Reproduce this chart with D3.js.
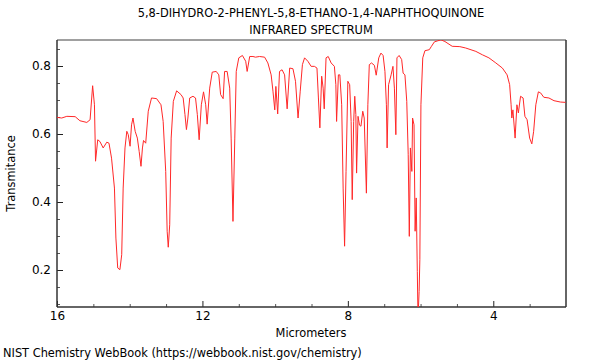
<!DOCTYPE html>
<html lang="en">

<head>
    <meta charset="utf-8">
    <title>IR Spectrum</title>
    <script src="https://cdn.jsdelivr.net/npm/d3@7"></script>
    <style>
        body { margin: 0; background: #fff; }
        text { font-family: "DejaVu Sans", sans-serif; }
    </style>
</head>

<body>
    <svg width="600" height="360"></svg>
    <script>
        // micrometers
        const wavelength = [16.00, 15.87, 15.73, 15.50, 15.37, 15.18, 15.09, 15.02, 14.97, 14.94, 14.88, 14.82, 14.73, 14.63, 14.57, 14.50, 14.42, 14.38, 14.33, 14.27, 14.22, 14.18, 14.13, 14.08, 14.04, 13.99, 13.95, 13.91, 13.85, 13.79, 13.74, 13.69, 13.65, 13.62, 13.56, 13.49, 13.40, 13.26, 13.14, 13.08, 13.01, 12.97, 12.94, 12.90, 12.86, 12.80, 12.71, 12.59, 12.53, 12.48, 12.44, 12.40, 12.35, 12.26, 12.19, 12.14, 12.09, 12.03, 11.97, 11.91, 11.87, 11.80, 11.73, 11.62, 11.55, 11.50, 11.43, 11.39, 11.32, 11.25, 11.21, 11.16, 11.11, 11.07, 11.00, 10.90, 10.81, 10.77, 10.70, 10.61, 10.54, 10.43, 10.29, 10.20, 10.11, 10.06, 10.01, 9.98, 9.93, 9.88, 9.81, 9.74, 9.67, 9.60, 9.51, 9.44, 9.37, 9.31, 9.25, 9.19, 9.10, 9.01, 8.92, 8.85, 8.81, 8.77, 8.72, 8.68, 8.65, 8.60, 8.54, 8.46, 8.37, 8.33, 8.31, 8.26, 8.22, 8.17, 8.13, 8.09, 8.05, 8.00, 7.95, 7.91, 7.88, 7.84, 7.81, 7.78, 7.76, 7.72, 7.68, 7.64, 7.59, 7.55, 7.49, 7.45, 7.41, 7.35, 7.27, 7.22, 7.15, 7.09, 7.03, 6.98, 6.94, 6.92, 6.88, 6.81, 6.76, 6.72, 6.68, 6.65, 6.59, 6.52, 6.48, 6.43, 6.38, 6.34, 6.31, 6.28, 6.24, 6.22, 6.18, 6.15, 6.12, 6.09, 6.07, 6.04, 6.02, 5.99, 5.94, 5.88, 5.76, 5.70, 5.62, 5.53, 5.44, 5.33, 5.13, 4.92, 4.76, 4.48, 4.30, 4.12, 3.93, 3.75, 3.62, 3.55, 3.51, 3.49, 3.46, 3.40, 3.35, 3.31, 3.25, 3.18, 3.13, 3.07, 3.00, 2.94, 2.89, 2.83, 2.76, 2.70, 2.61, 2.47, 2.33, 2.15, 2.01];

        const transmitance = [0.649, 0.647, 0.652, 0.651, 0.639, 0.634, 0.642, 0.742, 0.686, 0.520, 0.583, 0.578, 0.559, 0.576, 0.573, 0.529, 0.441, 0.294, 0.206, 0.201, 0.245, 0.441, 0.559, 0.608, 0.598, 0.564, 0.627, 0.647, 0.608, 0.588, 0.549, 0.505, 0.559, 0.581, 0.573, 0.667, 0.706, 0.704, 0.686, 0.637, 0.490, 0.314, 0.267, 0.333, 0.588, 0.696, 0.727, 0.716, 0.706, 0.657, 0.613, 0.647, 0.706, 0.711, 0.706, 0.657, 0.583, 0.686, 0.724, 0.686, 0.629, 0.735, 0.782, 0.784, 0.774, 0.716, 0.704, 0.784, 0.784, 0.735, 0.588, 0.343, 0.588, 0.784, 0.824, 0.831, 0.814, 0.784, 0.828, 0.828, 0.826, 0.828, 0.826, 0.809, 0.774, 0.726, 0.671, 0.740, 0.659, 0.784, 0.789, 0.774, 0.674, 0.794, 0.792, 0.755, 0.647, 0.726, 0.804, 0.824, 0.814, 0.799, 0.799, 0.794, 0.706, 0.618, 0.770, 0.735, 0.674, 0.824, 0.828, 0.809, 0.799, 0.745, 0.637, 0.774, 0.774, 0.686, 0.441, 0.270, 0.490, 0.755, 0.745, 0.637, 0.407, 0.637, 0.711, 0.657, 0.485, 0.652, 0.626, 0.623, 0.667, 0.647, 0.426, 0.686, 0.804, 0.809, 0.802, 0.773, 0.824, 0.838, 0.831, 0.784, 0.686, 0.559, 0.745, 0.774, 0.799, 0.735, 0.598, 0.824, 0.831, 0.819, 0.779, 0.774, 0.696, 0.539, 0.299, 0.559, 0.490, 0.647, 0.627, 0.314, 0.412, 0.196, 0.060, 0.137, 0.230, 0.686, 0.824, 0.845, 0.848, 0.858, 0.871, 0.874, 0.877, 0.872, 0.858, 0.857, 0.853, 0.843, 0.833, 0.824, 0.809, 0.794, 0.774, 0.745, 0.686, 0.647, 0.671, 0.588, 0.686, 0.662, 0.711, 0.706, 0.652, 0.642, 0.588, 0.571, 0.608, 0.686, 0.724, 0.721, 0.708, 0.706, 0.698, 0.694, 0.693];

        const xTicks = [16, 12, 8, 4];
        const yTicks = [0.2, 0.4, 0.6, 0.8];
        const titleLines = ["5,8-DIHYDRO-2-PHENYL-5,8-ETHANO-1,4-NAPHTHOQUINONE", "INFRARED SPECTRUM"];

        let data = wavelength.map((w, i) => ({ w: w, t: transmitance[i] }));

        let svg = d3.select("svg"),
            margin = { top: 40, right: 34, bottom: 53, left: 57 },
            width = +svg.attr("width") - margin.left - margin.right,
            height = +svg.attr("height") - margin.top - margin.bottom,
            g = svg.append("g").attr("transform", "translate(" + margin.left + "," + margin.top + ")");

        const fs = "11.4px";

        let xScale = d3.scaleLinear()
            .domain([16, 2])
            .range([0, width]);

        let yScale = d3.scaleLinear()
            .domain([0.0912, 0.8765])
            .range([height, 0]);

        svg.append("defs").append("clipPath")
            .attr("id", "plot")
            .append("rect")
            .attr("width", width)
            .attr("height", height);

        // minor ticks (inward, no labels)
        g.append("g")
            .attr("transform", "translate(0," + height + ")")
            .call(d3.axisTop(xScale).tickValues(d3.range(15, 2, -1).filter(v => v % 4 != 0)).tickSize(3).tickFormat(""))
            .call(a => a.select(".domain").remove())
            .selectAll("line").attr("stroke", "#555");

        g.append("g")
            .call(d3.axisRight(yScale).tickValues(d3.range(0.1, 0.87, 0.05).filter(v => Math.abs(v * 5 - Math.round(v * 5)) > 0.01)).tickSize(3).tickFormat(""))
            .call(a => a.select(".domain").remove())
            .selectAll("line").attr("stroke", "#555");

        // major ticks + labels
        let xAxis = g.append("g")
            .attr("transform", "translate(0," + height + ")")
            .call(d3.axisTop(xScale).tickValues(xTicks).tickSize(6).tickFormat(d3.format("d")))
            .call(a => a.select(".domain").remove());
        xAxis.selectAll("text")
            .attr("y", 13)
            .attr("dy", "0")
            .attr("fill", "#000")
            .style("font-size", "12px")
            .style("font-family", "DejaVu Sans");
        xAxis.selectAll("line").attr("stroke", "#222");

        let yAxis = g.append("g")
            .call(d3.axisRight(yScale).tickValues(yTicks).tickSize(6).tickFormat(d3.format(".1f")))
            .call(a => a.select(".domain").remove());
        yAxis.selectAll("text")
            .attr("x", -6)
            .attr("text-anchor", "end")
            .attr("fill", "#000")
            .style("font-size", "12px")
            .style("font-family", "DejaVu Sans");
        yAxis.selectAll("line").attr("stroke", "#222");

        // frame
        g.append("line").attr("x1", 0).attr("x2", width).attr("y1", 0).attr("y2", 0)
            .attr("stroke", "#a0a0a0").attr("stroke-width", 2);
        g.append("line").attr("x1", 0).attr("x2", width).attr("y1", height).attr("y2", height)
            .attr("stroke", "#333").attr("stroke-width", 1.5);
        g.append("line").attr("x1", 0).attr("x2", 0).attr("y1", 0).attr("y2", height)
            .attr("stroke", "#333").attr("stroke-width", 1.5);
        g.append("line").attr("x1", width).attr("x2", width).attr("y1", 0).attr("y2", height)
            .attr("stroke", "#333").attr("stroke-width", 1.5);

        let line = d3.line()
            .x(d => xScale(d.w))
            .y(d => yScale(d.t));

        g.append("path")
            .datum(data)
            .attr("clip-path", "url(#plot)")
            .attr("fill", "none")
            .attr("stroke", "#ff2828")
            .attr("stroke-width", 1)
            .attr("stroke-linejoin", "round")
            .attr("d", line);

        // texts
        svg.append("g").selectAll("text")
            .data(titleLines)
            .enter().append("text")
            .attr("x", 311)
            .attr("y", (d, i) => 17 + i * 17)
            .attr("text-anchor", "middle")
            .style("font-size", fs)
            .text(d => d);

        svg.append("text")
            .attr("transform", "translate(15," + (margin.top + height / 2) + ") rotate(-90)")
            .attr("text-anchor", "middle")
            .style("font-size", fs)
            .text("Transmitance");

        svg.append("text")
            .attr("x", 311)
            .attr("y", 337)
            .attr("text-anchor", "middle")
            .style("font-size", fs)
            .text("Micrometers");

        svg.append("text")
            .attr("x", 3)
            .attr("y", 357)
            .style("font-size", fs)
            .text("NIST Chemistry WebBook (https://webbook.nist.gov/chemistry)");
    </script>
</body>

</html>
